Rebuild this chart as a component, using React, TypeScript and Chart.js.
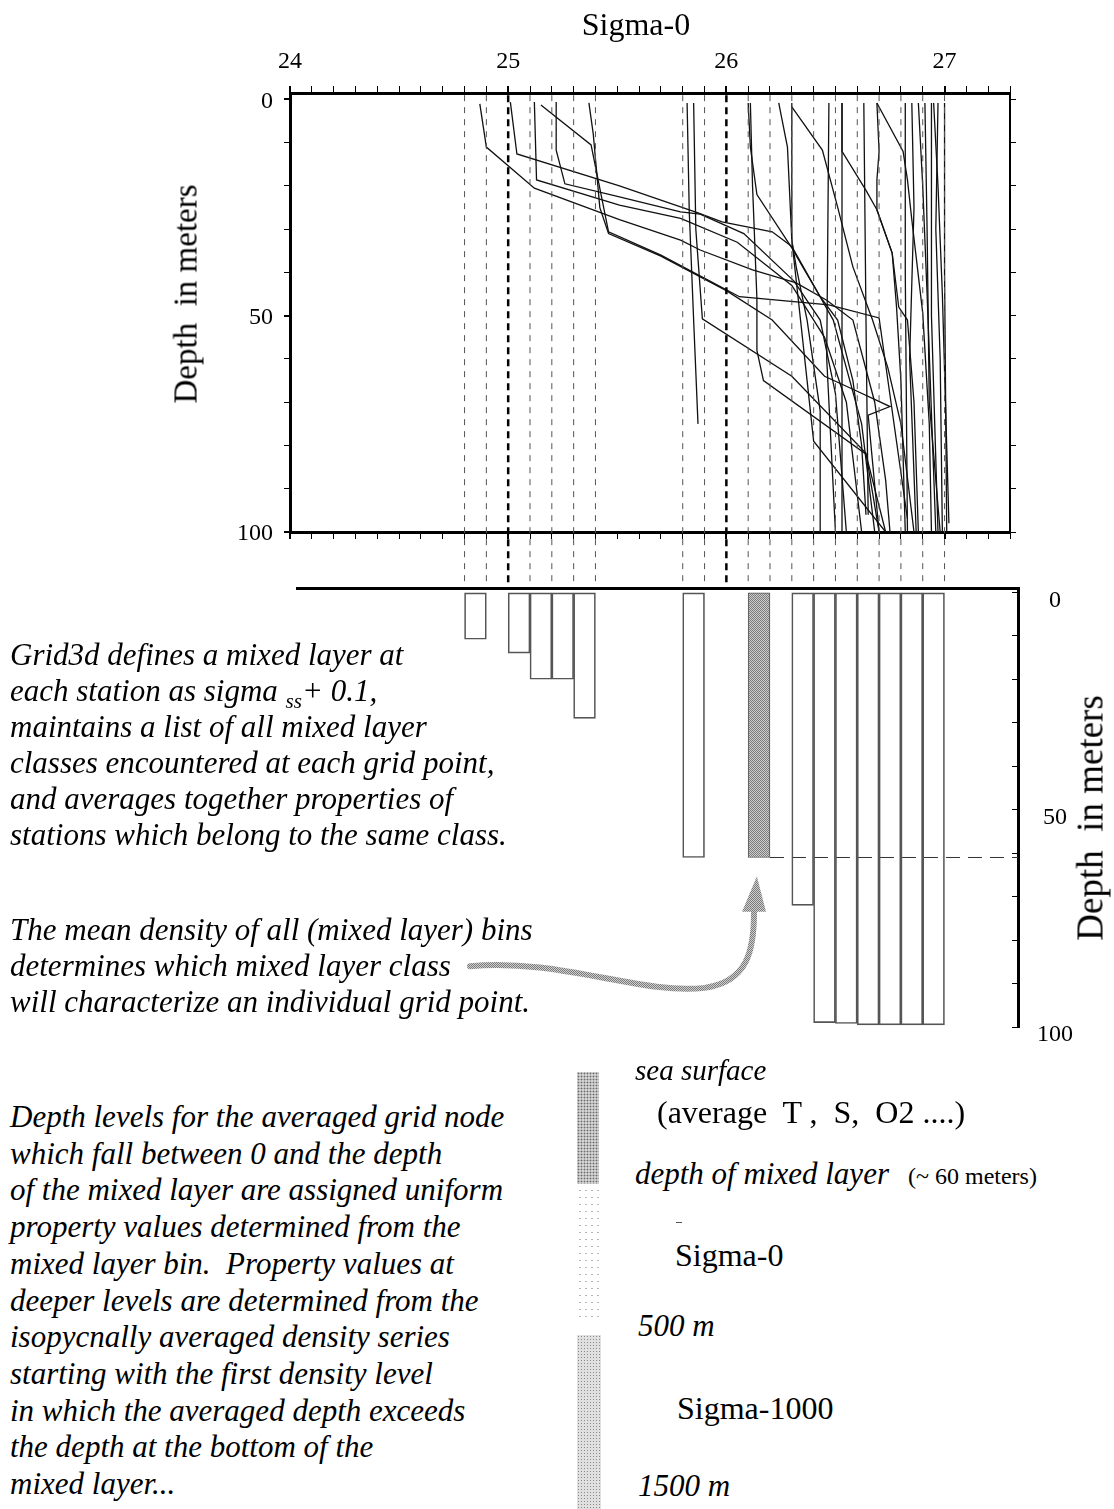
import React, { useEffect, useRef } from 'react';
import { Chart, registerables } from 'chart.js';

Chart.register(...registerables);

const SERIF = '"Liberation Serif", "Times New Roman", serif';

// ---------- axes ----------
const sigmaMin = 24;
const sigmaMax = 27.3;
const sigmaMinorStep = 0.1;
const sigmaTickLabels = [24, 25, 26, 27];
const depthTop = -1.5;
const depthMax = 100;
const depthMinorStep = 10;
const depthTickLabels = [0, 50, 100];
const gapDepth = 113;

// bottom panel
const binSigmaMin = 24.032;
const binSigmaMax = 27.337;
const binDepthTop = -1;
const binDepthMax = 100;

// ---------- mixed layer classes ----------
const binEdges = [24.8, 24.9, 25.0, 25.1, 25.2, 25.3, 25.4, 25.8, 25.9, 26.0, 26.1, 26.2, 26.3, 26.4, 26.5, 26.6, 26.7, 26.8, 26.9, 27.0];
const heavyEdges = [25.0, 26.0];
const binLower = [24.8, 25.0, 25.1, 25.2, 25.3, 25.8, 26.1, 26.3, 26.4, 26.5, 26.6, 26.7, 26.8, 26.9];
const binDepth = [10.8, 14, 20, 20, 29, 61, 61, 72, 99, 99.2, 99.5, 99.5, 99.5, 99.5];
const binWidth = 0.1;
const selectedBin = 26.1;
const mixedLayerDepth = 61;

// arrow (sigma, depth) in bottom panel
const arrowCurve = [[24.825, 86], [25.24, 84.1], [25.6, 92.6], [25.9, 91.0], [26.1, 89.6], [26.127, 82.3], [26.127, 73.5]];
const arrowHead = [[26.072, 73.5], [26.14, 65.3], [26.182, 73.5]];

// ---------- station profiles (sigma-0, depth) ----------
const profile01 = [[24.87, 1], [24.90, 11], [25.12, 20.5], [25.51, 27.8], [25.79, 32.5], [25.88, 34.8], [26.12, 39.4], [26.32, 42.4], [26.46, 46.4], [26.58, 51], [26.68, 70], [26.73, 88], [26.75, 100]];
const profile02 = [[25.01, 0.6], [25.04, 12.6], [25.51, 20], [25.87, 26.2], [25.98, 28.3], [26.21, 30.6], [26.30, 34], [26.49, 51], [26.62, 75], [26.68, 100]];
const profile03 = [[25.12, 0.6], [25.13, 18.6], [25.51, 24.4], [25.79, 27.5], [26.05, 33], [26.30, 43], [26.45, 55], [26.55, 70], [26.62, 100]];
const profile04 = [[25.22, 0.6], [25.22, 11.7], [25.26, 19.5], [25.51, 22.5], [25.79, 26], [25.88, 26.5], [26.08, 31], [26.31, 42], [26.43, 51], [26.50, 68], [26.55, 100]];
const profile05 = [[25.15, 1.3], [25.38, 10.5], [25.46, 30.6], [25.70, 36], [26.0, 44], [26.06, 45.6], [26.47, 47.5], [26.70, 50.5], [26.83, 97]];
const profile06 = [[25.37, 0.8], [25.39, 8], [25.42, 25], [25.46, 31], [25.70, 36.2], [26.0, 44.2], [26.21, 51], [26.45, 64], [26.58, 67], [26.75, 71], [26.65, 73], [26.70, 100]];
const profile07 = [[25.82, 0.8], [25.83, 26], [25.85, 51], [25.87, 75]];
const profile08 = [[25.85, 0.8], [25.86, 30], [25.89, 50.7], [26.30, 64], [26.64, 81.8], [26.70, 100]];
const profile09 = [[26.10, 0.8], [26.11, 11], [26.14, 22], [26.30, 34.3], [26.35, 38.7], [26.43, 45.6], [26.51, 51], [26.58, 65], [26.62, 80], [26.64, 96]];
const profile10 = [[26.24, 0.8], [26.28, 11], [26.30, 32.5], [26.32, 38.7], [26.37, 51], [26.43, 72], [26.43, 100]];
const profile11 = [[26.30, 1.7], [26.44, 11.7], [26.51, 24.9], [26.58, 38.7], [26.67, 51], [26.74, 62], [26.80, 75], [26.86, 100]];
const profile12 = [[26.30, 0.8], [26.30, 32.5], [26.34, 51], [26.37, 65], [26.40, 79], [26.73, 100]];
const profile13 = [[26.47, 0.8], [26.46, 60], [26.50, 100]];
const profile14 = [[26.53, 0.8], [26.53, 100]];
const profile15 = [[26.53, 0.8], [26.53, 12], [26.64, 21], [26.69, 25.5], [26.76, 35.5], [26.79, 48], [26.83, 51], [26.86, 70], [26.88, 100]];
const profile16 = [[26.63, 0.8], [26.64, 51], [26.65, 96]];
const profile17 = [[26.69, 0.8], [26.81, 12], [26.83, 18.6], [26.85, 27.8], [26.90, 49.4], [26.93, 75], [26.94, 100]];
const profile18 = [[26.69, 0.8], [26.70, 12], [26.69, 18.6], [26.69, 25.5], [26.76, 35.5], [26.78, 48], [26.80, 65], [26.82, 100]];
const profile19 = [[26.82, 0.8], [26.82, 40], [26.83, 100]];
const profile20 = [[26.85, 0.8], [26.86, 25], [26.84, 60], [26.87, 100]];
const profile21 = [[26.88, 0.8], [26.90, 20], [26.92, 45], [26.96, 100]];
const profile22 = [[26.91, 0.8], [26.92, 30], [26.93, 70], [26.98, 100]];
const profile23 = [[26.94, 0.8], [26.94, 50], [26.97, 100]];
const profile24 = [[26.97, 0.8], [26.96, 30], [26.98, 60], [26.99, 100]];
const profile25 = [[27.0, 0.8], [27.0, 40], [27.01, 100]];
const profile26 = [[26.95, 0.8], [26.97, 20], [26.99, 45], [27.02, 98]];
const profile27 = [[26.11, 0.8], [26.12, 20], [26.14, 46], [26.14, 58], [26.17, 65], [26.64, 82], [26.73, 100]];

const profiles = [profile01, profile02, profile03, profile04, profile05, profile06, profile07, profile08, profile09,
  profile10, profile11, profile12, profile13, profile14, profile15, profile16, profile17, profile18, profile19,
  profile20, profile21, profile22, profile23, profile24, profile25, profile26, profile27];

// ---------- texts ----------
const block1 = [
  'Grid3d defines a mixed layer at',
  '__SIGMA__',
  'maintains a list of all mixed layer',
  'classes encountered at each grid point,',
  'and averages together properties of',
  'stations which belong to the same class.',
];
const block2 = [
  'The mean density of all (mixed layer) bins',
  'determines which mixed layer class',
  'will characterize an individual grid point.',
];
const block3 = [
  'Depth levels for the averaged grid node',
  'which fall between 0 and the depth',
  'of the mixed layer are assigned uniform',
  'property values determined from the',
  'mixed layer bin.  Property values at',
  'deeper levels are determined from the',
  'isopycnally averaged density series',
  'starting with the first density level',
  'in which the averaged depth exceeds',
  'the depth at the bottom of the',
  'mixed layer...',
];

const tickFont = { family: SERIF, size: 24 };
const near = (a: number, b: number) => Math.abs(a - b) < 1e-6;

function stepTicks(min: number, max: number, step: number) {
  const out: { value: number }[] = [];
  const start = Math.ceil(min / step - 1e-9);
  const end = Math.floor(max / step + 1e-9);
  for (let k = start; k <= end; k++) out.push({ value: Math.round(k * step * 1e6) / 1e6 });
  return out;
}

function makeStipple(canvas: HTMLCanvasElement, dark: string, light: string) {
  const c = document.createElement('canvas');
  c.width = 2; c.height = 2;
  const g = c.getContext('2d')!;
  g.fillStyle = light; g.fillRect(0, 0, 2, 2);
  g.fillStyle = dark;
  g.fillRect(0, 0, 1, 1); g.fillRect(1, 1, 1, 1);
  return canvas.getContext('2d')!.createPattern(c, 'repeat');
}

function zeroPad(s: any) {
  s.paddingTop = 0; s.paddingBottom = 0; s.paddingLeft = 0; s.paddingRight = 0;
}

function TopChart() {
  const ref = useRef<HTMLCanvasElement>(null);
  useEffect(() => {
    const datasets: any[] = [];
    binEdges.forEach((e) => {
      const heavy = heavyEdges.some((h) => near(h, e));
      datasets.push({
        data: [{ x: e, y: depthTop + 0.5 }, { x: e, y: gapDepth }],
        showLine: true, pointRadius: 0, clip: false,
        borderColor: heavy ? '#000' : '#555', borderWidth: heavy ? 2.5 : 1,
        borderDash: heavy ? [7, 5] : [6, 6],
      });
    });
    profiles.forEach((p) => {
      datasets.push({
        data: p.map(([x, y]) => ({ x, y })),
        showLine: true, pointRadius: 0, borderColor: '#111', borderWidth: 1.3, tension: 0,
      });
    });
    const axisGrid = (len: number, majorFn: (v: number) => boolean) => ({
      drawOnChartArea: false, drawTicks: true, tickLength: len, color: '#000',
      lineWidth: (c: any) => (c.tick && majorFn(c.tick.value) ? 2 : 1),
    });
    const sigMajor = (v: number) => sigmaTickLabels.some((t) => near(t, v));
    const depMajor = (v: number) => depthTickLabels.some((t) => near(t, v));
    const chart = new Chart(ref.current!, {
      type: 'scatter',
      data: { datasets },
      options: {
        responsive: false,
        animation: false,
        layout: { padding: 0 },
        plugins: { legend: { display: false }, tooltip: { enabled: false } },
        scales: {
          x: {
            type: 'linear', position: 'top', min: sigmaMin, max: sigmaMax,
            afterBuildTicks: (s: any) => { s.ticks = stepTicks(sigmaMin, sigmaMax, sigmaMinorStep); },
            afterFit: (s: any) => { s.height = 93; zeroPad(s); },
            grid: axisGrid(7, sigMajor),
            border: { display: true, width: 3, color: '#000' },
            ticks: {
              autoSkip: false, maxRotation: 0, padding: 10, color: '#000', font: tickFont,
              callback: (v: any) => (sigMajor(v) ? String(Math.round(v)) : ''),
            },
          },
          x2: {
            type: 'linear', position: 'bottom', min: sigmaMin, max: sigmaMax,
            afterBuildTicks: (s: any) => { s.ticks = stepTicks(sigmaMin, sigmaMax, sigmaMinorStep); },
            afterFit: (s: any) => { s.height = 58; zeroPad(s); },
            grid: axisGrid(7, sigMajor),
            border: { display: true, width: 3, color: '#000' },
            ticks: { autoSkip: false, maxRotation: 0, callback: () => '' },
          },
          y: {
            type: 'linear', position: 'left', reverse: true, min: depthTop, max: depthMax,
            afterBuildTicks: (s: any) => { s.ticks = stepTicks(0, depthMax, depthMinorStep); },
            afterFit: (s: any) => { s.width = 140; zeroPad(s); },
            grid: axisGrid(6, depMajor),
            border: { display: true, width: 3, color: '#000' },
            ticks: {
              autoSkip: false, padding: 11, color: '#000', font: tickFont, labelOffset: 2,
              callback: (v: any) => (depMajor(v) ? String(Math.round(v)) : ''),
            },
          },
          y2: {
            type: 'linear', position: 'right', reverse: true, min: depthTop, max: depthMax,
            afterBuildTicks: (s: any) => { s.ticks = stepTicks(0, depthMax, depthMinorStep); },
            afterFit: (s: any) => { s.width = 20; zeroPad(s); },
            grid: axisGrid(6, () => false),
            border: { display: true, width: 2, color: '#000' },
            ticks: { autoSkip: false, callback: () => '' },
          },
        },
      } as any,
    });
    return () => chart.destroy();
  }, []);
  return <canvas ref={ref} width={880} height={590} style={{ position: 'absolute', left: 150, top: 0 }} />;
}

function BottomChart() {
  const ref = useRef<HTMLCanvasElement>(null);
  useEffect(() => {
    const canvas = ref.current!;
    const shade = makeStipple(canvas, '#7c7c7c', '#cdcdcd');
    const arrowFill = makeStipple(canvas, '#7a7a7a', '#cfcfcf');
    const arrowPlugin = {
      id: 'mlArrow',
      afterDatasetsDraw(chart: any) {
        const { ctx, scales } = chart;
        const px = (p: number[]) => [scales.x.getPixelForValue(p[0]), scales.y.getPixelForValue(p[1])];
        const c = arrowCurve.map(px);
        ctx.save();
        ctx.strokeStyle = arrowFill;
        ctx.lineWidth = 6;
        ctx.lineCap = 'round';
        ctx.beginPath();
        ctx.moveTo(c[0][0], c[0][1]);
        ctx.bezierCurveTo(c[1][0], c[1][1], c[2][0], c[2][1], c[3][0], c[3][1]);
        ctx.bezierCurveTo(c[4][0], c[4][1], c[5][0], c[5][1], c[6][0], c[6][1]);
        ctx.stroke();
        const h = arrowHead.map(px);
        ctx.fillStyle = arrowFill;
        ctx.beginPath();
        ctx.moveTo(h[0][0], h[0][1]);
        ctx.lineTo(h[1][0], h[1][1]);
        ctx.lineTo(h[2][0], h[2][1]);
        ctx.closePath();
        ctx.fill();
        ctx.restore();
      },
    };
    const depMajor = (v: number) => depthTickLabels.some((t) => near(t, v));
    const chart = new Chart(canvas, {
      type: 'bar',
      data: {
        datasets: [
          {
            type: 'bar',
            data: binLower.map((b, i) => ({ x: b + binWidth / 2, y: [0, binDepth[i]] })),
            backgroundColor: binLower.map((b) => (near(b, selectedBin) ? shade : 'rgba(0,0,0,0)')),
            borderColor: '#555', borderWidth: 1, borderSkipped: false,
            barPercentage: 1, categoryPercentage: 1,
          },
          {
            type: 'line',
            data: [{ x: selectedBin + binWidth, y: mixedLayerDepth }, { x: binSigmaMax, y: mixedLayerDepth }],
            borderColor: '#333', borderWidth: 1, borderDash: [14, 8], pointRadius: 0,
          },
        ],
      } as any,
      options: {
        responsive: false,
        animation: false,
        indexAxis: 'x',
        layout: { padding: { left: 147, bottom: 33, top: 0, right: 0 } },
        plugins: { legend: { display: false }, tooltip: { enabled: false } },
        scales: {
          x: {
            type: 'linear', position: 'top', min: binSigmaMin, max: binSigmaMax, offset: false,
            grid: { display: false }, ticks: { display: false },
            border: { display: true, width: 3, color: '#000' },
            afterFit: (s: any) => { s.height = 28; zeroPad(s); },
          },
          y: {
            type: 'linear', position: 'right', reverse: true, min: binDepthTop, max: binDepthMax,
            afterBuildTicks: (s: any) => { s.ticks = stepTicks(0, binDepthMax, depthMinorStep); },
            afterFit: (s: any) => { s.width = 82; zeroPad(s); },
            grid: { drawOnChartArea: false, drawTicks: true, tickLength: -6, color: '#000', lineWidth: 1 },
            border: { display: true, width: 3, color: '#000' },
            ticks: {
              autoSkip: false, padding: 25, color: '#000', font: tickFont,
              crossAlign: 'center', labelOffset: 8,
              callback: (v: any) => (depMajor(v) ? String(Math.round(v)) : ''),
            },
          },
        },
      } as any,
      plugins: [arrowPlugin],
    });
    return () => chart.destroy();
  }, []);
  return <canvas ref={ref} width={950} height={500} style={{ position: 'absolute', left: 150, top: 560 }} />;
}

function T(props: { x: number; top: number; size: number; italic?: boolean; children: any }) {
  return (
    <div
      style={{
        position: 'absolute', left: props.x, top: props.top, fontSize: props.size,
        fontStyle: props.italic ? 'italic' : 'normal', lineHeight: 1, whiteSpace: 'pre',
        fontFamily: SERIF, color: '#000',
      }}
    >
      {props.children}
    </div>
  );
}

function Block(props: { lines: string[]; y0: number; dy: number; size: number }) {
  return (
    <>
      {props.lines.map((l, i) => (
        <T key={i} x={10} top={props.y0 + i * props.dy - props.size * 0.61} size={props.size} italic>
          {l === '__SIGMA__' ? (
            <>
              each station as sigma <span style={{ fontSize: props.size * 0.68, verticalAlign: '-0.35em' }}>ss</span>+ 0.1,
            </>
          ) : l}
        </T>
      ))}
    </>
  );
}

const stippleDark = {
  backgroundColor: '#d2d2d2',
  backgroundImage: 'radial-gradient(circle, #6a6a6a 0.8px, transparent 1.1px)',
  backgroundSize: '3px 3px',
};
const stippleLight = {
  backgroundImage: 'radial-gradient(circle, #b5b5b5 0.7px, transparent 1px)',
  backgroundSize: '6px 7px',
};
const stippleMid = {
  backgroundColor: '#e0e0e0',
  backgroundImage: 'radial-gradient(circle, #8a8a8a 0.7px, transparent 1px)',
  backgroundSize: '3px 3px',
};

export default function App() {
  return (
    <div style={{ position: 'absolute', left: 0, top: 0, width: 1114, height: 1509, background: '#fff', overflow: 'hidden' }}>
      <TopChart />
      <BottomChart />

      {/* axis titles */}
      <div style={{ position: 'absolute', left: 636, top: 8, transform: 'translateX(-50%)', fontFamily: SERIF, fontSize: 32, lineHeight: 1, whiteSpace: 'pre' }}>Sigma-0</div>
      <div style={{ position: 'absolute', left: 186, top: 294, transform: 'translate(-50%,-50%) rotate(-90deg)', fontFamily: SERIF, fontSize: 33, lineHeight: 1, whiteSpace: 'pre' }}>Depth  in meters</div>
      <div style={{ position: 'absolute', left: 1090, top: 818, transform: 'translate(-50%,-50%) rotate(-90deg)', fontFamily: SERIF, fontSize: 37, lineHeight: 1, whiteSpace: 'pre' }}>Depth  in meters</div>

      {/* annotations */}
      <Block lines={block1} y0={658} dy={36} size={31} />
      <Block lines={block2} y0={933} dy={36} size={31} />
      <Block lines={block3} y0={1120} dy={36.7} size={31} />

      {/* legend column */}
      <div style={{ position: 'absolute', left: 577, top: 1072, width: 22, height: 112, ...stippleDark }} />
      <div style={{ position: 'absolute', left: 577, top: 1187, width: 22, height: 130, ...stippleLight }} />
      <div style={{ position: 'absolute', left: 577, top: 1335, width: 24, height: 174, ...stippleMid }} />

      <T x={635} top={1056} size={29} italic>sea surface</T>
      <T x={657} top={1096} size={32}>(average  T ,  S,  O2 ....)</T>
      <T x={635} top={1158} size={31} italic>depth of mixed layer</T>
      <T x={908} top={1164} size={24}>(~ 60 meters)</T>
      <div style={{ position: 'absolute', left: 676, top: 1222, width: 6, height: 1, background: '#555' }} />
      <T x={675} top={1239} size={32}>Sigma-0</T>
      <T x={638} top={1310} size={31} italic>500 m</T>
      <T x={677} top={1392} size={32}>Sigma-1000</T>
      <T x={638} top={1470} size={31} italic>1500 m</T>
    </div>
  );
}
